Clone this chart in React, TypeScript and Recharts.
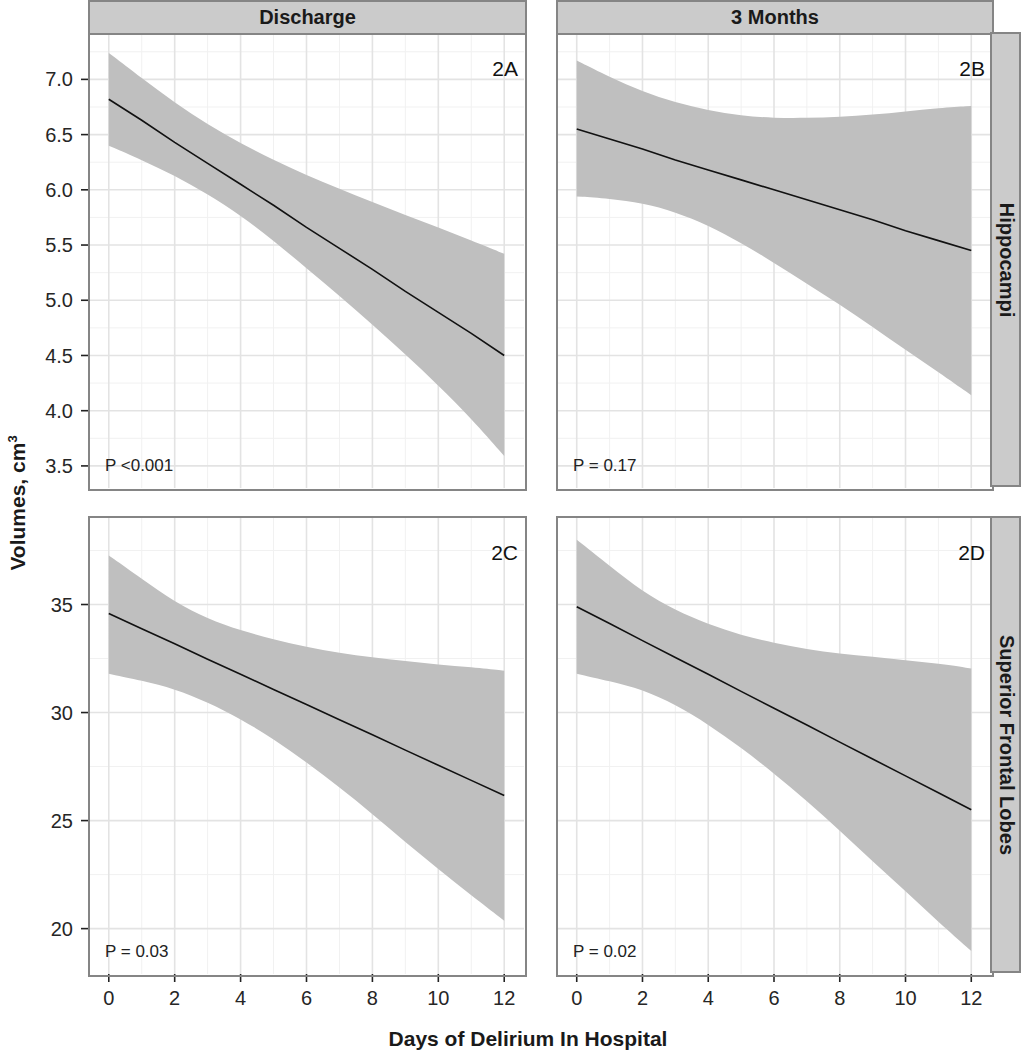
import { Area, CartesianGrid, ComposedChart, Line, XAxis, YAxis } from "recharts";

// days of delirium
const days = [0, 1, 2, 3, 4, 5, 6, 7, 8, 9, 10, 11, 12];
const xTicks = [0, 2, 4, 6, 8, 10, 12];
const xMinor = [1, 3, 5, 7, 9, 11];

// hippocampi (cm3)
const hipTicks = [3.5, 4.0, 4.5, 5.0, 5.5, 6.0, 6.5, 7.0];
const hipMinor = [3.75, 4.25, 4.75, 5.25, 5.75, 6.25, 6.75, 7.25];
// superior frontal lobes (cm3)
const sflTicks = [20, 25, 30, 35];
const sflMinor = [22.5, 27.5, 32.5, 37.5];

// 2A discharge / hippocampi
const fitA = [6.82, 6.63, 6.43, 6.24, 6.05, 5.86, 5.66, 5.47, 5.28, 5.08, 4.89, 4.7, 4.5];
const upA = [7.24, 7.01, 6.79, 6.59, 6.42, 6.27, 6.13, 6.01, 5.89, 5.77, 5.66, 5.54, 5.42];
const loA = [6.4, 6.27, 6.13, 5.96, 5.77, 5.54, 5.29, 5.04, 4.78, 4.51, 4.23, 3.93, 3.59];

// 2B 3 months / hippocampi
const fitB = [6.55, 6.46, 6.37, 6.27, 6.18, 6.09, 6.0, 5.91, 5.82, 5.73, 5.63, 5.54, 5.45];
const upB = [7.17, 7.02, 6.89, 6.79, 6.72, 6.67, 6.65, 6.65, 6.66, 6.68, 6.71, 6.74, 6.76];
const loB = [5.94, 5.92, 5.88, 5.8, 5.68, 5.52, 5.34, 5.15, 4.96, 4.76, 4.55, 4.35, 4.14];

// 2C discharge / superior frontal lobes
const fitC = [34.58, 33.88, 33.18, 32.47, 31.77, 31.07, 30.37, 29.67, 28.97, 28.26, 27.56, 26.86, 26.16];
const upC = [37.27, 36.19, 35.11, 34.34, 33.8, 33.38, 33.03, 32.76, 32.56, 32.38, 32.22, 32.1, 31.94];
const loC = [31.79, 31.48, 31.1, 30.48, 29.71, 28.78, 27.7, 26.54, 25.31, 24.0, 22.76, 21.53, 20.37];

// 2D 3 months / superior frontal lobes
const fitD = [34.9, 34.12, 33.33, 32.55, 31.77, 30.98, 30.2, 29.42, 28.63, 27.85, 27.07, 26.29, 25.5];
const upD = [38.0, 36.79, 35.59, 34.73, 34.09, 33.58, 33.22, 32.93, 32.73, 32.58, 32.41, 32.27, 32.04];
const loD = [31.8, 31.45, 31.07, 30.37, 29.45, 28.38, 27.18, 25.91, 24.53, 23.12, 21.73, 20.31, 18.96];

const colTitles = ["Discharge", "3 Months"];
const rowTitles = ["Hippocampi", "Superior Frontal Lobes"];

const FONT = "'Liberation Sans', Arial, Helvetica, sans-serif";
const COLS = [
  [89, 524],
  [557, 991],
];
const ROWS = [
  [33, 488],
  [517, 974],
];
const X_AXIS_H = 50;
const Y_AXIS_W = 89;

const rowsOf = (fit: number[], lo: number[], up: number[]) =>
  days.map((d, i) => ({ day: d, fit: fit[i], band: [lo[i], up[i]] }));

function Panel({
  col,
  row,
  fit,
  lo,
  up,
  domain,
  ticks,
  minor,
  fmt,
  tag,
  pval,
}: {
  col: number;
  row: number;
  fit: number[];
  lo: number[];
  up: number[];
  domain: [number, number];
  ticks: number[];
  minor: number[];
  fmt: (v: number) => string;
  tag: string;
  pval: string;
}) {
  const showY = col === 0;
  const showX = row === 1;
  const [x0, x1] = COLS[col];
  const [y0, y1] = ROWS[row];
  const left = showY ? x0 - Y_AXIS_W : x0;
  const width = x1 - left;
  const height = y1 - y0 + (showX ? X_AXIS_H : 0);
  const data = rowsOf(fit, lo, up);

  return (
    <>
      <div style={{ position: "absolute", left, top: y0 }}>
        <ComposedChart
          width={width}
          height={height}
          data={data}
          margin={{ top: 0, right: 0, bottom: 0, left: 0 }}
        >
          <CartesianGrid
            stroke="#f1f1f1"
            strokeWidth={1}
            verticalValues={xMinor}
            horizontalValues={minor}
          />
          <CartesianGrid
            stroke="#e3e3e3"
            strokeWidth={1.6}
            verticalValues={xTicks}
            horizontalValues={ticks}
          />
          <XAxis
            type="number"
            dataKey="day"
            domain={[-0.6, 12.6]}
            ticks={xTicks}
            allowDataOverflow
            hide={!showX}
            height={X_AXIS_H}
            axisLine={false}
            tickSize={8}
            tickMargin={9}
            tickLine={{ stroke: "#222", strokeWidth: 1.6 }}
            tick={{ fill: "#262626", fontSize: 20, fontFamily: FONT }}
          />
          <YAxis
            type="number"
            domain={domain}
            ticks={ticks}
            allowDataOverflow
            hide={!showY}
            width={Y_AXIS_W}
            axisLine={false}
            tickSize={8}
            tickMargin={8}
            tickLine={{ stroke: "#222", strokeWidth: 1.6 }}
            tick={{ fill: "#262626", fontSize: 20, fontFamily: FONT }}
            tickFormatter={fmt}
          />
          <Area
            type="basis"
            dataKey="band"
            stroke="none"
            fill="#bfbfbf"
            fillOpacity={1}
            isAnimationActive={false}
          />
          <Line
            type="linear"
            dataKey="fit"
            stroke="#111"
            strokeWidth={1.6}
            dot={false}
            isAnimationActive={false}
          />
        </ComposedChart>
      </div>
      {/* panel border */}
      <div
        style={{
          position: "absolute",
          left: x0 - 1,
          top: y0 - 1,
          width: x1 - x0,
          height: y1 - y0,
          border: "2px solid #858585",
          pointerEvents: "none",
        }}
      />
      <div
        style={{
          position: "absolute",
          right: 1024 - x1 + 6,
          top: y0 + 24,
          fontSize: 21,
          color: "#111",
          lineHeight: "24px",
        }}
      >
        {tag}
      </div>
      <div
        style={{
          position: "absolute",
          left: x0 + 16,
          top: y1 - 32,
          fontSize: 17,
          color: "#222",
          lineHeight: "20px",
          whiteSpace: "pre",
        }}
      >
        {pval}
      </div>
    </>
  );
}

export default function App() {
  const fmtHip = (v: number) => v.toFixed(1);
  const fmtSfl = (v: number) => `${v}`;
  return (
    <div
      style={{
        position: "absolute",
        left: 0,
        top: 0,
        width: 1024,
        height: 1050,
        background: "#fff",
        fontFamily: FONT,
        overflow: "hidden",
      }}
    >
      <Panel col={0} row={0} fit={fitA} lo={loA} up={upA} domain={[3.3, 7.42]} ticks={hipTicks} minor={hipMinor} fmt={fmtHip} tag="2A" pval="P <0.001" />
      <Panel col={1} row={0} fit={fitB} lo={loB} up={upB} domain={[3.3, 7.42]} ticks={hipTicks} minor={hipMinor} fmt={fmtHip} tag="2B" pval="P = 0.17" />
      <Panel col={0} row={1} fit={fitC} lo={loC} up={upC} domain={[17.9, 39.05]} ticks={sflTicks} minor={sflMinor} fmt={fmtSfl} tag="2C" pval="P = 0.03" />
      <Panel col={1} row={1} fit={fitD} lo={loD} up={upD} domain={[17.9, 39.05]} ticks={sflTicks} minor={sflMinor} fmt={fmtSfl} tag="2D" pval="P = 0.02" />

      {/* column strips */}
      {colTitles.map((t, i) => (
        <div
          key={t}
          style={{
            position: "absolute",
            left: COLS[i][0] - 1,
            top: 0,
            width: COLS[i][1] - COLS[i][0],
            height: 31,
            background: "#cbcbcb",
            border: "2px solid #858585",
            display: "flex",
            alignItems: "center",
            justifyContent: "center",
            fontSize: 20,
            fontWeight: "bold",
            color: "#1a1a1a",
          }}
        >
          {t}
        </div>
      ))}

      {/* row strips */}
      {rowTitles.map((t, i) => (
        <div
          key={t}
          style={{
            position: "absolute",
            left: COLS[1][1] - 1,
            top: ROWS[i][0] - 1,
            width: 31,
            height: ROWS[i][1] - ROWS[i][0],
            background: "#cbcbcb",
            border: "2px solid #858585",
            boxSizing: "border-box",
          }}
        >
          <div
            style={{
              position: "absolute",
              left: "50%",
              top: "50%",
              transform: "translate(-50%, -50%) rotate(90deg)",
              whiteSpace: "nowrap",
              fontSize: 20,
              fontWeight: "bold",
              color: "#1a1a1a",
            }}
          >
            {t}
          </div>
        </div>
      ))}

      {/* axis titles */}
      <div
        style={{
          position: "absolute",
          left: 0,
          width: 1056,
          top: 1027,
          textAlign: "center",
          fontSize: 21,
          fontWeight: "bold",
          color: "#1a1a1a",
        }}
      >
        Days of Delirium In Hospital
      </div>
      <div
        style={{
          position: "absolute",
          left: 17,
          top: 503,
          transform: "translate(-50%, -50%) rotate(-90deg)",
          whiteSpace: "nowrap",
          fontSize: 21,
          fontWeight: "bold",
          color: "#1a1a1a",
        }}
      >
        Volumes, cm<sup style={{ fontSize: 13 }}>3</sup>
      </div>
    </div>
  );
}
